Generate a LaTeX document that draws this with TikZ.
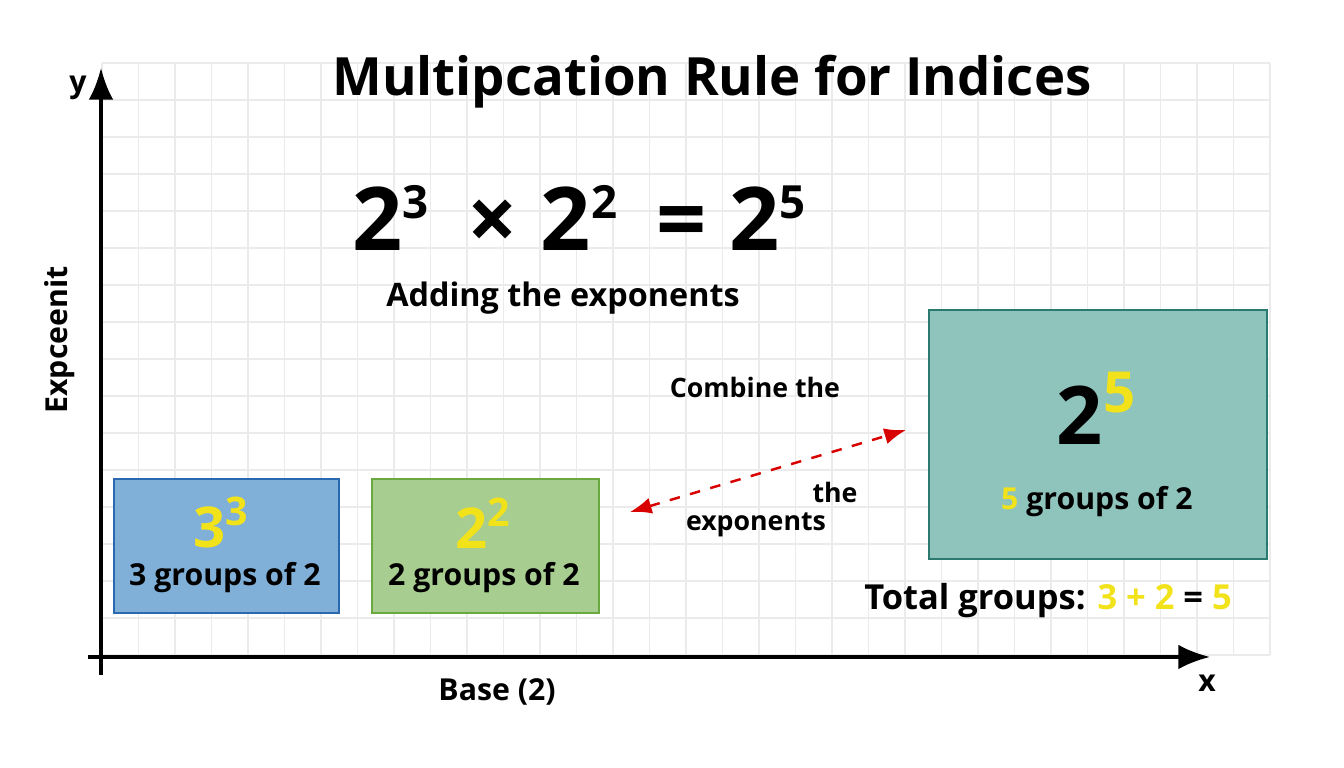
\documentclass[tikz,border=0pt]{standalone}
\usepackage{fontspec}
\setmainfont{Open Sans}
\usetikzlibrary{arrows.meta}
\definecolor{ylw}{HTML}{F2E21A}
\definecolor{bluefill}{HTML}{80B0D8}
\definecolor{blueline}{HTML}{2A68B0}
\definecolor{greenfill}{HTML}{A8CD90}
\definecolor{greenline}{HTML}{6AA840}
\definecolor{tealfill}{HTML}{8EC4BC}
\definecolor{tealline}{HTML}{2A7A70}
\tikzset{lbl/.style = {font=\bfseries\fontsize{8.6}{10}\selectfont}}
\tikzset{box/.style = {draw,line width=0.6pt,anchor=north west,inner sep=0pt}}
\tikzset{edge/.style = {<->,>=Latex,red!85!black,dashed,line width=0.7pt}}
\begin{document}
\begin{tikzpicture}[x=0.01cm,y=-0.01cm]
\useasboundingbox (0,0) rectangle (1344,768);
\fill[white] (0,0) rectangle (1344,768);
\foreach \gx in {0,...,32} \draw[black!8,line width=0.5pt] (102+36.5*\gx,63) -- (102+36.5*\gx,655);
\foreach \gy in {0,...,16} \draw[black!8,line width=0.5pt] (102,63+37*\gy) -- (1270,63+37*\gy);

\draw[-{Latex[length=9pt,width=7pt]},line width=1pt] (101,675) -- (101,68);
\draw[-{Latex[length=9pt,width=7pt]},line width=1pt] (88,657) -- (1210,657);
\node[lbl] (ylab) at (78,88) {y};
\node[lbl] (xlab) at (1207,683) {x};
\node[lbl] (base) at (497,692) {Base (2)};
\node[lbl] (expo) at (60,340) [rotate=90] {Expceenit};

\node[font=\bfseries\fontsize{15}{18}\selectfont] (title) at (712,82) {Multipcation Rule for Indices};
\node[font=\bfseries\fontsize{25}{28}\selectfont] (eq) at (580,218) {2\textsuperscript{\fontsize{13}{13}\selectfont 3}\, × 2\textsuperscript{\fontsize{13}{13}\selectfont 2}\, = 2\textsuperscript{\fontsize{13}{13}\selectfont 5}};
\node[lbl,font=\bfseries\fontsize{9.2}{10}\selectfont] (adding) at (563,298) {Adding the exponents};

\node[box,fill=bluefill,draw=blueline,minimum width=2.25cm,minimum height=1.34cm] (b3) at (113,478) {};
\node[font=\bfseries\fontsize{16}{18}\selectfont,text=ylw] (b3top) at (222,523) {3\textsuperscript{3}};
\node[lbl] (b3txt) at (225,578) {3 groups of 2};

\node[box,fill=greenfill,draw=greenline,minimum width=2.27cm,minimum height=1.34cm] (b2) at (371,478) {};
\node[font=\bfseries\fontsize{16}{18}\selectfont,text=ylw] (b2top) at (484,523) {2\textsuperscript{2}};
\node[lbl] (b2txt) at (484,578) {2 groups of 2};

\node[box,fill=tealfill,draw=tealline,minimum width=3.38cm,minimum height=2.49cm] (b5) at (928,309) {};
\node[font=\bfseries\fontsize{23}{24}\selectfont] (b5top) at (1097,408) {2\textsuperscript{\textcolor{ylw}{5}}};
\node[lbl] (b5txt) at (1097,502) {\textcolor{ylw}{5} groups of 2};
\node[lbl,font=\bfseries\fontsize{9.8}{11}\selectfont] (total) at (1048,601) {Total groups: \textcolor{ylw}{3 + 2} = \textcolor{ylw}{5}};

\coordinate (arrL) at (630,512);
\coordinate (arrR) at (906,430);
\draw[edge] (arrL) -- (arrR);
\node[lbl,font=\bfseries\fontsize{7.6}{9}\selectfont] (comb) at (755,387) {Combine the};
\node[lbl,font=\bfseries\fontsize{7.6}{9}\selectfont] (the) at (835,492) {the};
\node[lbl,font=\bfseries\fontsize{7.6}{9}\selectfont] (exps) at (756,525) {exponents};
\end{tikzpicture}
\end{document}
